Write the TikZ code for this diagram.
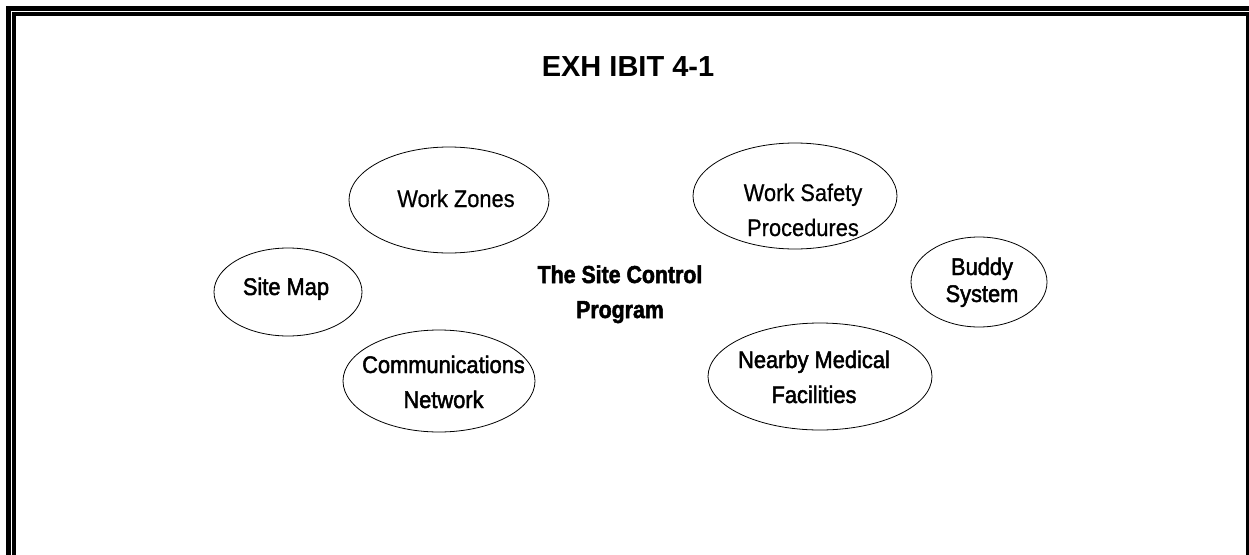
\documentclass[tikz,border=0pt]{standalone}
\usepackage{fontspec}
\setmainfont{Liberation Sans}
\newfontfamily\regfont[FakeStretch=0.91,FakeBold=0.6]{Liberation Sans}
\newfontfamily\heavyfont[FakeStretch=0.91,FakeBold=2]{Liberation Sans}
\newfontfamily\blackfont[FakeStretch=0.87,FakeBold=2]{Liberation Sans Bold}
\usetikzlibrary{shapes.geometric}
\begin{document}
\begin{tikzpicture}[x=1pt,y=-1pt,
  oval/.style={draw=black,line width=0.8pt,ellipse,inner sep=0pt},
  lbl/.style={align=center,anchor=base,inner sep=0pt,font=\regfont\fontsize{24}{35}\selectfont},
  hlbl/.style={lbl,font=\heavyfont\fontsize{24}{35}\selectfont},
  frame/.style={draw=black,line width=4.5pt}]
\useasboundingbox (0,0) rectangle (1249,554);
\begin{scope}
\clip (0,0) rectangle (1249,554);
\draw[frame] (8.5,8.5) rectangle (1254,600);
\draw[frame,line width=4pt] (13.5,13.5) rectangle (1247.5,600);
\end{scope}
\node[anchor=base,inner sep=0pt,font=\fontsize{29}{35}\selectfont\bfseries] (title) at (628,76) {EXH IBIT 4-1};
\node[oval,minimum width=200,minimum height=106] (wz) at (449,200) {};
\node[oval,minimum width=148,minimum height=88] (sm) at (288,292) {};
\node[oval,minimum width=192,minimum height=102] (cn) at (439,381) {};
\node[oval,minimum width=204,minimum height=106] (ws) at (795,196) {};
\node[oval,minimum width=136,minimum height=90] (bs) at (979,282) {};
\node[oval,minimum width=224,minimum height=107] (nm) at (820,376.5) {};
\node[lbl] (wzt) at (456,207) {Work Zones};
\node[hlbl] (smt) at (286,295) {Site Map};
\node[hlbl] (cnt) at (443.5,408) {Communications\\Network};
\node[lbl] (wst) at (803,236) {Work Safety\\Procedures};
\node[hlbl,font=\heavyfont\fontsize{24}{27}\selectfont] (bst) at (982,302) {Buddy\\System};
\node[hlbl] (nmt) at (814,403) {Nearby Medical\\Facilities};
\node[lbl,font=\blackfont\fontsize{24.5}{35}\selectfont] (ct) at (620,318) {The Site Control\\Program};
\end{tikzpicture}
\end{document}
